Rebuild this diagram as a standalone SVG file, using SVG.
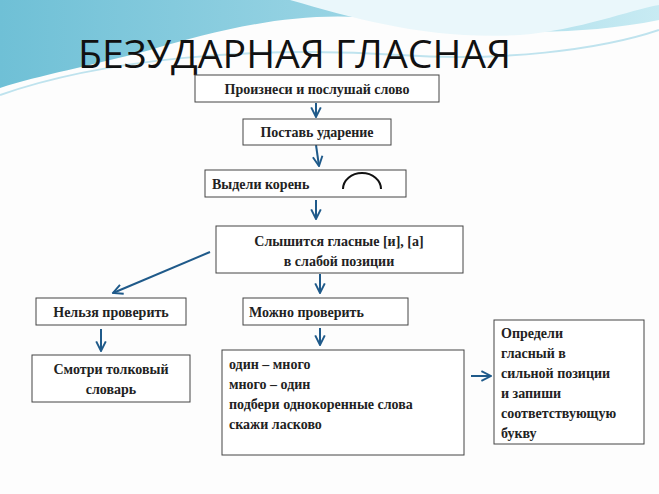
<svg xmlns="http://www.w3.org/2000/svg" width="659" height="494" viewBox="0 0 659 494">
<defs>
<linearGradient id="bg" x1="0" y1="0" x2="1" y2="0"><stop offset="0" stop-color="#6fc0d6"/><stop offset="0.6" stop-color="#9fd7e6"/><stop offset="1" stop-color="#c8ebf3"/></linearGradient>
<marker id="ah" viewBox="0 0 10 10" refX="9" refY="5" markerWidth="6" markerHeight="6" orient="auto"><path d="M1,1 L9,5 L1,9" fill="none" stroke="#1f5a8a" stroke-width="1.6"/></marker>
</defs>
<style>
.b{fill:#fff;stroke:#444;stroke-width:1}
.t{font-family:'Liberation Serif','DejaVu Serif',serif;font-size:14px;font-weight:bold;fill:#222}
.c line{stroke:#1f5a8a;stroke-width:2;marker-end:url(#ah)}
</style>
<rect width="659" height="494" fill="#fdfdfd"/>
<path d="M0,0 H659 V20 C560,40 470,30 390,20 C300,8 220,30 150,50 C90,66 40,75 0,88 Z" fill="url(#bg)"/>
<path d="M290,0 C360,20 430,40 520,35 C580,30 630,10 659,5 V0 Z" fill="#eaf7fb"/>
<path d="M0,95 C100,60 250,45 400,55 C500,62 600,50 659,30" fill="none" stroke="#bfe3ee" stroke-width="2"/>
<text x="78" y="68" font-family="'Open Sans','DejaVu Sans',sans-serif" font-size="38" fill="#111" textLength="433" lengthAdjust="spacingAndGlyphs">БЕЗУДАРНАЯ ГЛАСНАЯ</text>
<g class="c">
<line x1="316" y1="103" x2="316" y2="117"/>
<line x1="316" y1="145" x2="319" y2="166"/>
<line x1="316" y1="200" x2="316" y2="219"/>
<line x1="210" y1="252" x2="113" y2="293"/>
<line x1="320" y1="274" x2="320" y2="293"/>
<line x1="101" y1="329" x2="101" y2="351"/>
<line x1="320" y1="328" x2="320" y2="345"/>
<line x1="471" y1="376" x2="491" y2="376"/>
</g>
<g id="n1"><rect class="b" x="195" y="75" width="244" height="27"/><text class="t" x="317" y="94" text-anchor="middle">Произнеси и послушай слово</text></g>
<g id="n2"><rect class="b" x="243" y="119" width="148" height="26"/><text class="t" x="317" y="137" text-anchor="middle">Поставь ударение</text></g>
<g id="n3"><rect class="b" x="205" y="170" width="201" height="27"/><text class="t" x="212" y="189">Выдели корень</text><path d="M343,189 A19,16 0 0 1 381,189" fill="none" stroke="#111" stroke-width="2"/></g>
<g id="n4"><rect class="b" x="216" y="226" width="247" height="47"/><text class="t" x="339" y="246" text-anchor="middle">Слышится гласные [и], [а]</text><text class="t" x="339" y="266" text-anchor="middle">в слабой позиции</text></g>
<g id="n5"><rect class="b" x="36" y="298" width="150" height="27"/><text class="t" x="111" y="317" text-anchor="middle">Нельзя проверить</text></g>
<g id="n6"><rect class="b" x="243" y="298" width="165" height="27"/><text class="t" x="249" y="317">Можно проверить</text></g>
<g id="n7"><rect class="b" x="32" y="355" width="158" height="47"/><text class="t" x="111" y="374" text-anchor="middle">Смотри толковый</text><text class="t" x="111" y="394" text-anchor="middle">словарь</text></g>
<g id="n8"><rect class="b" x="222" y="350" width="242" height="105"/><text class="t" x="229" y="369">один – много</text><text class="t" x="229" y="389">много – один</text><text class="t" x="229" y="409">подбери однокоренные слова</text><text class="t" x="229" y="429">скажи ласково</text></g>
<g id="n9"><rect class="b" x="494" y="320" width="150" height="124"/><text class="t" x="501" y="338">Определи</text><text class="t" x="501" y="358">гласный в</text><text class="t" x="501" y="378">сильной  позиции</text><text class="t" x="501" y="398">и запиши</text><text class="t" x="501" y="418">соответствующую</text><text class="t" x="501" y="438">букву</text></g>
</svg>
